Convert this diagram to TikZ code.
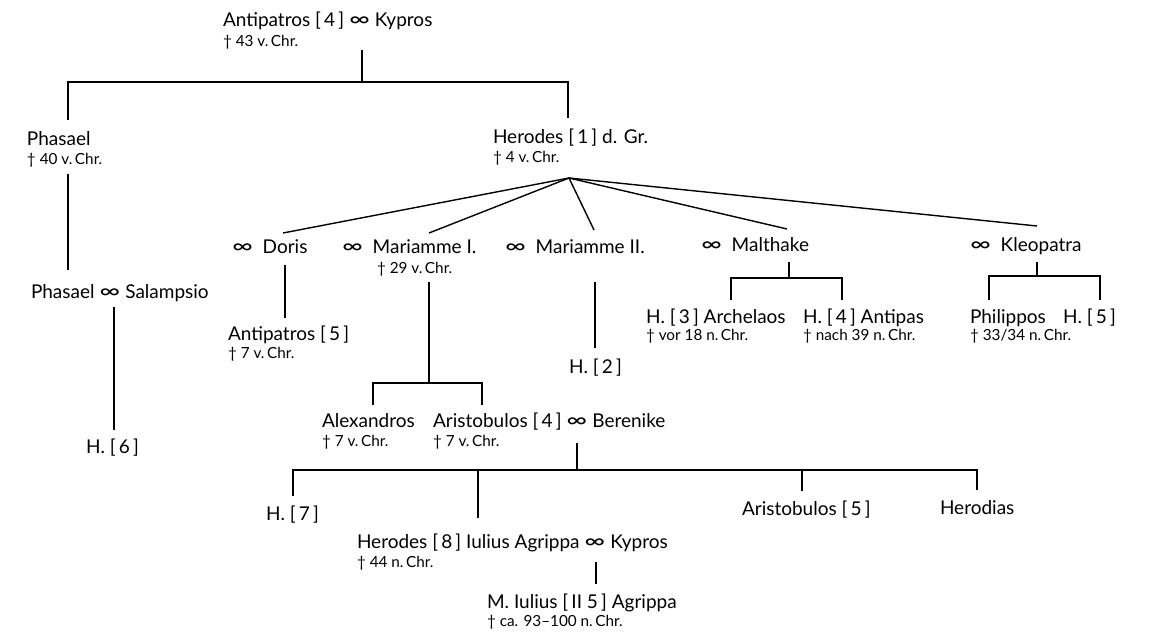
\documentclass[tikz,border=0pt]{standalone}
\usepackage{fontspec}
\usepackage{graphicx}
\setmainfont{Lato}
\tikzset{
  nm/.style={anchor=base west, inner sep=0pt, outer sep=0pt, font=\fontsize{19}{21}\selectfont},
  dt/.style={anchor=base west, inner sep=0pt, outer sep=0pt, font=\fontsize{15.3}{17}\selectfont},
  ln/.style={line width=1.4pt, black}
}
\newcommand{\oo}{\scalebox{1.5}[1.1]{∞}}
\begin{document}
\begin{tikzpicture}[x=1pt,y=-1pt]
\useasboundingbox (0,0) rectangle (1149,634);
% ---------- texts ----------
\node[nm] (antip) at (223,27) {Antipatros [\,4\,] \oo\ Kypros};
\node[dt] (antipd) at (223,47) {† 43 v.\,Chr.};
\node[nm] (phas) at (27,145) {Phasael};
\node[dt] (phasd) at (27,164) {† 40 v.\,Chr.};
\node[nm] (herod) at (493,143) {Herodes [\,1\,] d. Gr.};
\node[dt] (herodd) at (493,162) {† 4 v.\,Chr.};
\node[nm] (phsal) at (31,298) {Phasael \oo\ Salampsio};
\node[nm] (h6) at (86,453) {H. [\,6\,]};
\node[nm] (doris) at (232,253) {\oo\ \ Doris};
\node[nm] (mar1) at (342,253) {\oo\ \ Mariamme I.};
\node[dt] (mar1d) at (377,273) {† 29 v.\,Chr.};
\node[nm] (mar2) at (505,253) {\oo\ \ Mariamme II.};
\node[nm] (malt) at (701,251) {\oo\ \ Malthake};
\node[nm] (kleo) at (970,251) {\oo\ \ Kleopatra};
\node[nm] (antip5) at (228,340) {Antipatros [\,5\,]};
\node[dt] (antip5d) at (228,358) {† 7 v.\,Chr.};
\node[nm] (alex) at (322,427) {Alexandros};
\node[dt] (alexd) at (322,446) {† 7 v.\,Chr.};
\node[nm] (ari4) at (433,427) {Aristobulos [\,4\,] \oo\ Berenike};
\node[dt] (ari4d) at (433,446) {† 7 v.\,Chr.};
\node[nm] (h2) at (569,373) {H. [\,2\,]};
\node[nm] (arch) at (646,323) {H. [\,3\,] Archelaos};
\node[dt] (archd) at (646,340) {† vor 18 n.\,Chr.};
\node[nm] (antipas) at (803,323) {H. [\,4\,] Antipas};
\node[dt] (antipasd) at (803,340) {† nach 39 n.\,Chr.};
\node[nm] (phil) at (970,323) {Philippos};
\node[dt] (phild) at (970,340) {† 33/34 n.\,Chr.};
\node[nm] (h5) at (1063,323) {H. [\,5\,]};
\node[nm] (h7) at (266,520) {H. [\,7\,]};
\node[nm] (ari5) at (742,515) {Aristobulos [\,5\,]};
\node[nm] (herodias) at (940,514) {Herodias};
\node[nm] (agr) at (357,548) {Herodes [\,8\,] Iulius Agrippa \oo\ Kypros};
\node[dt] (agrd) at (357,567) {† 44 n.\,Chr.};
\node[nm] (magr) at (487,608) {M. Iulius [\,II 5\,] Agrippa};
\node[dt] (magrd) at (487,626) {† ca. 93–100 n.\,Chr.};
% ---------- coordinates ----------
\coordinate (a0) at (362,50);
\coordinate (a1) at (362,82);
\coordinate (aL) at (68,82);
\coordinate (aR) at (568,82);
\coordinate (aLd) at (68,120);
\coordinate (aRd) at (568,118);
\coordinate (p0) at (68,174);
\coordinate (p1) at (68,270);
\coordinate (s0) at (114,307);
\coordinate (s1) at (114,430);
\coordinate (hub) at (569,178);
\coordinate (fD) at (283,233);
\coordinate (fM1) at (429,233);
\coordinate (fM2) at (594,230);
\coordinate (fMa) at (787,229);
\coordinate (fK) at (1037,226);
\coordinate (d0) at (285,265);
\coordinate (d1) at (285,318);
\coordinate (m0) at (429,282);
\coordinate (m1) at (429,383);
\coordinate (mL) at (373,383);
\coordinate (mR) at (482,383);
\coordinate (mLd) at (373,405);
\coordinate (mRd) at (482,405);
\coordinate (n0) at (595,282);
\coordinate (n1) at (595,348);
\coordinate (t0) at (789,262);
\coordinate (t1) at (789,278);
\coordinate (tL) at (731,278);
\coordinate (tR) at (842,278);
\coordinate (tLd) at (731,300);
\coordinate (tRd) at (842,300);
\coordinate (k0) at (1037,262);
\coordinate (k1) at (1037,276);
\coordinate (kL) at (989,276);
\coordinate (kR) at (1100,276);
\coordinate (kLd) at (989,300);
\coordinate (kRd) at (1100,300);
\coordinate (b0) at (577,443);
\coordinate (b1) at (577,470);
\coordinate (bL) at (293,470);
\coordinate (bR) at (977,470);
\coordinate (bLd) at (293,496);
\coordinate (bA) at (478,470);
\coordinate (bAd) at (478,518);
\coordinate (bS) at (802,470);
\coordinate (bSd) at (802,491);
\coordinate (bRd) at (977,490);
\coordinate (c0) at (596,562);
\coordinate (c1) at (596,584);
% ---------- connectors ----------
\draw[ln] (a0) -- (a1);
\draw[ln] (aLd) -- (aL) -- (aR) -- (aRd);
\draw[ln] (p0) -- (p1);
\draw[ln] (s0) -- (s1);
\draw[ln] (hub) -- (fD);
\draw[ln] (hub) -- (fM1);
\draw[ln] (hub) -- (fM2);
\draw[ln] (hub) -- (fMa);
\draw[ln] (hub) -- (fK);
\draw[ln] (d0) -- (d1);
\draw[ln] (m0) -- (m1);
\draw[ln] (mLd) -- (mL) -- (mR) -- (mRd);
\draw[ln] (n0) -- (n1);
\draw[ln] (t0) -- (t1);
\draw[ln] (tLd) -- (tL) -- (tR) -- (tRd);
\draw[ln] (k0) -- (k1);
\draw[ln] (kLd) -- (kL) -- (kR) -- (kRd);
\draw[ln] (b0) -- (b1);
\draw[ln] (bLd) -- (bL) -- (bR) -- (bRd);
\draw[ln] (bA) -- (bAd);
\draw[ln] (bS) -- (bSd);
\draw[ln] (c0) -- (c1);
\end{tikzpicture}
\end{document}
